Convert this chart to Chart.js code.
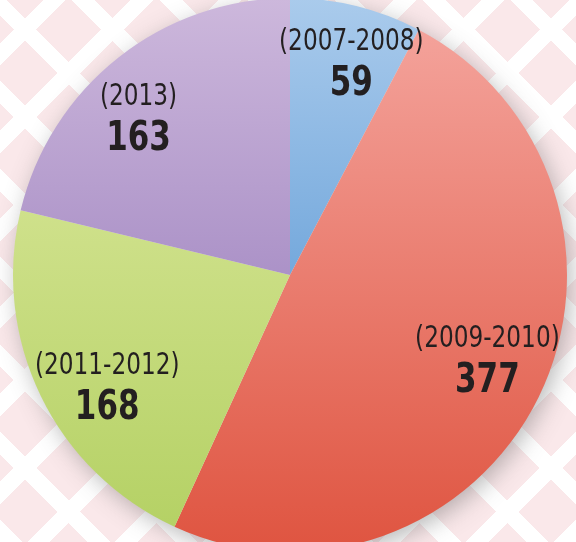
<!DOCTYPE html>
<html>
<head>
<meta charset="utf-8">
<script src="https://cdn.jsdelivr.net/npm/chart.js@4"></script>
<style>
html, body { margin: 0; padding: 0; width: 576px; height: 542px; overflow: hidden; }
body {
    background-color: #fae8ea;
    background-image:
        repeating-linear-gradient(45deg, #ffffff 0 16px, rgba(255,255,255,0) 16px 62px),
        repeating-linear-gradient(-45deg, #ffffff 0 16px, rgba(255,255,255,0) 16px 62px);
}
#wrap { position: absolute; left: 0; top: -2px; width: 580px; height: 554px; }
</style>
</head>
<body>
<div id="wrap"><canvas id="pieChart" width="580" height="554"></canvas></div>
<script>
var periods = ['(2007-2008)', '(2009-2010)', '(2011-2012)', '(2013)'];
var counts = [59, 377, 168, 163];
var topColors = ['#aacbec', '#f5a7a0', '#e0eba4', '#cdb8dc'];
var bottomColors = ['#3f86cc', '#df5440', '#b3d062', '#8a6cb3'];

// small nudges so the labels sit where the original put them
var labelDX = [9, 1, 14, -16];
var labelDY = [0, -12, 16, 14];

function sliceColor(context) {
    var i = context.dataIndex;
    var chart = context.chart;
    var area = chart.chartArea;
    if (!area) return topColors[i];
    var g = chart.ctx.createLinearGradient(0, area.top, 0, area.bottom);
    g.addColorStop(0, topColors[i]);
    g.addColorStop(1, bottomColors[i]);
    return g;
}

var shadowPlugin = {
    id: 'pieShadow',
    beforeDatasetsDraw: function(chart) {
        var arc = chart.getDatasetMeta(0).data[0];
        if (!arc) return;
        var c = chart.ctx;
        c.save();
        c.shadowColor = 'rgba(90,90,90,0.45)';
        c.shadowBlur = 24;
        c.shadowOffsetX = 4;
        c.shadowOffsetY = 6;
        c.fillStyle = '#e6e6e6';
        c.beginPath();
        c.arc(arc.x, arc.y, arc.outerRadius - 1, 0, Math.PI * 2);
        c.fill();
        c.restore();
    }
};

function drawNarrow(c, text, x, y, sx) {
    c.save();
    c.translate(x, y);
    c.scale(sx, 1);
    c.fillText(text, 0, 0);
    c.restore();
}

var labelPlugin = {
    id: 'sliceLabels',
    afterDatasetsDraw: function(chart) {
        var meta = chart.getDatasetMeta(0);
        var c = chart.ctx;
        c.save();
        c.textAlign = 'center';
        c.textBaseline = 'middle';
        c.fillStyle = '#231f20';
        meta.data.forEach(function(arc, i) {
            var mid = (arc.startAngle + arc.endAngle) / 2;
            var r = arc.outerRadius * 0.79;
            var x = arc.x + Math.cos(mid) * r + labelDX[i];
            var y = arc.y + Math.sin(mid) * r + labelDY[i];
            c.font = '30px "DejaVu Sans Condensed", "DejaVu Sans", sans-serif';
            drawNarrow(c, periods[i], x, y - 20, 0.86);
            c.font = 'bold 41px "DejaVu Sans Condensed", "DejaVu Sans", sans-serif';
            drawNarrow(c, String(counts[i]), x, y + 22, 0.84);
        });
        c.restore();
    }
};

new Chart(document.getElementById('pieChart'), {
    type: 'pie',
    data: {
        labels: periods,
        datasets: [{
            data: counts,
            backgroundColor: sliceColor,
            borderWidth: 0
        }]
    },
    options: {
        responsive: false,
        animation: false,
        layout: { padding: 0 },
        plugins: {
            legend: { display: false },
            tooltip: { enabled: false }
        }
    },
    plugins: [shadowPlugin, labelPlugin]
});
</script>
</body>
</html>
